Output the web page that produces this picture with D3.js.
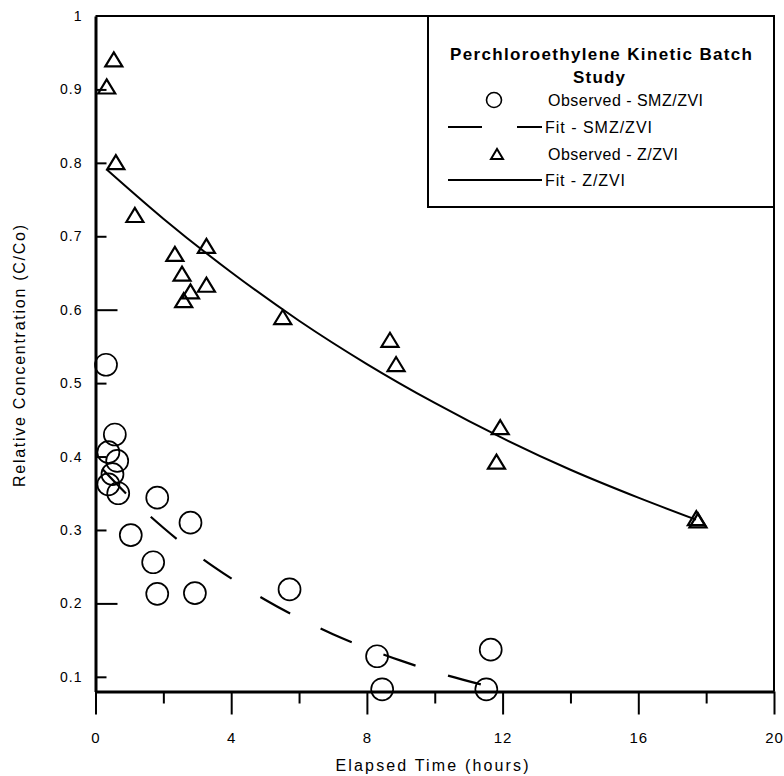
<!DOCTYPE html>
<html>
<head>
<meta charset="utf-8">
<script src="https://cdn.jsdelivr.net/npm/d3@7"></script>
<style>
  body { margin: 0; background: #fff; }
  svg { display: block; font-family: "Liberation Sans", Arial, Helvetica, sans-serif; }
</style>
</head>
<body>
<svg id="canvas" width="784" height="776"></svg>
<script>
'use strict';

// Observed - SMZ/ZVI (circles)
const smzTime = [0.31, 0.57, 0.38, 0.64, 0.50, 0.38, 0.67, 1.82, 2.80, 1.04, 1.70, 1.82, 2.93, 5.72, 8.30, 8.45, 11.65, 11.52];
const smzConc = [0.525, 0.430, 0.406, 0.394, 0.376, 0.362, 0.350, 0.344, 0.310, 0.293, 0.256, 0.213, 0.214, 0.219, 0.128, 0.083, 0.137, 0.083];

// Observed - Z/ZVI (triangles)
const zTime = [0.33, 0.54, 0.60, 1.16, 2.34, 3.27, 2.55, 3.27, 2.80, 2.60, 5.52, 8.68, 8.86, 11.93, 11.82, 17.71, 17.76];
const zConc = [0.904, 0.941, 0.801, 0.729, 0.676, 0.687, 0.649, 0.634, 0.625, 0.613, 0.590, 0.559, 0.526, 0.440, 0.393, 0.316, 0.313];

// Fit curves
const smzFitTime = [0.2, 1, 2, 3, 4, 5, 6, 7, 8, 9, 10, 11.5];
const smzFitConc = [0.383, 0.345, 0.303, 0.266, 0.234, 0.205, 0.180, 0.158, 0.139, 0.122, 0.107, 0.088];
const zFitTime = [0.33, 2, 4, 6, 8, 10, 12, 14, 16, 17.7];
const zFitConc = [0.791, 0.724, 0.651, 0.585, 0.526, 0.473, 0.425, 0.382, 0.344, 0.314];

const xTicks = [0, 2, 4, 6, 8, 10, 12, 14, 16, 18, 20];
const xTickLabels = ['0', '', '4', '', '8', '', '12', '', '16', '', '20'];
const yTicks = [0.1, 0.2, 0.3, 0.4, 0.5, 0.6, 0.7, 0.8, 0.9, 1];
const yTickLabels = ['0.1', '0.2', '0.3', '0.4', '0.5', '0.6', '0.7', '0.8', '0.9', '1'];

const legendTitle = ['Perchloroethylene Kinetic Batch', 'Study'];
const legendLabels = ['Observed - SMZ/ZVI', 'Fit - SMZ/ZVI', 'Observed - Z/ZVI', 'Fit - Z/ZVI'];

const svg = d3.select('#canvas');
const plotLeft = 95.5, plotRight = 774, plotTop = 16, plotBottom = 691.5;

const x = d3.scaleLinear().domain([0, 20]).range([plotLeft, plotRight]);
const y = d3.scaleLinear().domain([0.08, 1]).range([plotBottom, plotTop]);

// frame (top + right)
svg.append('path')
    .attr('d', 'M' + plotLeft + ',' + plotTop + 'H' + plotRight + 'V' + plotBottom)
    .attr('fill', 'none')
    .attr('stroke', '#000')
    .attr('stroke-width', 2);

// y axis, ticks pointing inside
const yAxis = svg.append('g')
    .attr('transform', 'translate(' + plotLeft + ',0)')
    .call(d3.axisLeft(y)
        .tickValues(yTicks)
        .tickFormat(function(d, i) { return yTickLabels[i]; })
        .tickSizeInner(-11)
        .tickSizeOuter(0)
        .tickPadding(13));
yAxis.select('.domain').attr('stroke-width', 3);
yAxis.selectAll('.tick line')
    .attr('stroke-width', 2)
    .attr('x2', function(d) { return d === 1 ? 0 : (d === 0.2 || d === 0.6 ? 22 : 11); });
yAxis.selectAll('.tick text')
    .attr('font-size', 14)
    .attr('letter-spacing', 1)
    .attr('fill', '#000')
    .attr('font-family', null);

// x axis, ticks pointing outside
const xAxis = svg.append('g')
    .attr('transform', 'translate(0,' + plotBottom + ')')
    .call(d3.axisBottom(x)
        .tickValues(xTicks)
        .tickFormat(function(d, i) { return xTickLabels[i]; })
        .tickSizeInner(23)
        .tickSizeOuter(0)
        .tickPadding(18));
xAxis.select('.domain').attr('stroke-width', 3);
xAxis.selectAll('.tick line')
    .attr('stroke-width', 2)
    .attr('y2', function(d) { return d % 4 === 0 ? 23 : 12; });
xAxis.selectAll('.tick text')
    .attr('font-size', 15)
    .attr('letter-spacing', 1)
    .attr('fill', '#000')
    .attr('font-family', null);

// axis titles
svg.append('text')
    .attr('x', 432)
    .attr('y', 771)
    .attr('text-anchor', 'middle')
    .attr('font-size', 16)
    .attr('textLength', 193)
    .attr('lengthAdjust', 'spacing')
    .text('Elapsed Time (hours)');

svg.append('text')
    .attr('transform', 'translate(25,356) rotate(-90)')
    .attr('text-anchor', 'middle')
    .attr('font-size', 16)
    .attr('textLength', 262)
    .attr('lengthAdjust', 'spacing')
    .text('Relative Concentration (C/Co)');

// fit lines
const line = d3.line()
    .x(function(d) { return x(d[0]); })
    .y(function(d) { return y(d[1]); })
    .curve(d3.curveMonotoneX);

svg.append('path')
    .datum(d3.zip(zFitTime, zFitConc))
    .attr('d', line)
    .attr('fill', 'none')
    .attr('stroke', '#000')
    .attr('stroke-width', 2);

svg.append('path')
    .datum(d3.zip(smzFitTime, smzFitConc))
    .attr('d', line)
    .attr('fill', 'none')
    .attr('stroke', '#000')
    .attr('stroke-width', 2.2)
    .attr('stroke-dasharray', '34,34');

// markers
function triangle(w, h) {
    return 'M' + (-w / 2) + ',' + (h / 2) + 'L0,' + (-h / 2) + 'L' + (w / 2) + ',' + (h / 2) + 'Z';
}

svg.append('g')
    .selectAll('circle')
    .data(d3.zip(smzTime, smzConc))
    .enter().append('circle')
        .attr('cx', function(d) { return x(d[0]); })
        .attr('cy', function(d) { return y(d[1]); })
        .attr('r', 11)
        .attr('fill', 'none')
        .attr('stroke', '#000')
        .attr('stroke-width', 1.7);

svg.append('g')
    .selectAll('path')
    .data(d3.zip(zTime, zConc))
    .enter().append('path')
        .attr('transform', function(d) { return 'translate(' + x(d[0]) + ',' + y(d[1]) + ')'; })
        .attr('d', triangle(17, 14))
        .attr('fill', 'none')
        .attr('stroke', '#000')
        .attr('stroke-width', 2.2)
        .attr('stroke-linejoin', 'miter');

// legend
const legend = svg.append('g');
legend.append('rect')
    .attr('x', 428)
    .attr('y', plotTop)
    .attr('width', plotRight - 428)
    .attr('height', 207 - plotTop)
    .attr('fill', '#fff')
    .attr('stroke', '#000')
    .attr('stroke-width', 2);

legend.append('text')
    .attr('x', 601)
    .attr('y', 60)
    .attr('text-anchor', 'middle')
    .attr('font-size', 17)
    .attr('font-weight', 'bold')
    .attr('textLength', 302)
    .attr('lengthAdjust', 'spacing')
    .text(legendTitle[0]);
legend.append('text')
    .attr('x', 599)
    .attr('y', 83)
    .attr('text-anchor', 'middle')
    .attr('font-size', 17)
    .attr('font-weight', 'bold')
    .attr('textLength', 52)
    .attr('lengthAdjust', 'spacing')
    .text(legendTitle[1]);

const rowY = [100, 127, 154, 180];
const labelX = [548, 545, 548, 545];
const labelLen = [155, 107, 130, 80];

legend.append('circle')
    .attr('cx', 494)
    .attr('cy', rowY[0])
    .attr('r', 7.5)
    .attr('fill', 'none')
    .attr('stroke', '#000')
    .attr('stroke-width', 1.6);
legend.append('path')
    .attr('d', 'M448,' + rowY[1] + 'H542')
    .attr('stroke', '#000')
    .attr('stroke-width', 2.2)
    .attr('stroke-dasharray', '34,35');
legend.append('path')
    .attr('transform', 'translate(497,' + rowY[2] + ')')
    .attr('d', triangle(12, 10))
    .attr('fill', 'none')
    .attr('stroke', '#000')
    .attr('stroke-width', 2);
legend.append('path')
    .attr('d', 'M448,' + rowY[3] + 'H542')
    .attr('stroke', '#000')
    .attr('stroke-width', 2);

legend.selectAll('text.entry')
    .data(legendLabels)
    .enter().append('text')
        .attr('class', 'entry')
        .attr('x', function(d, i) { return labelX[i]; })
        .attr('y', function(d, i) { return rowY[i] + 6; })
        .attr('font-size', 16)
        .attr('textLength', function(d, i) { return labelLen[i]; })
        .attr('lengthAdjust', 'spacing')
        .text(function(d) { return d; });
</script>
</body>
</html>
